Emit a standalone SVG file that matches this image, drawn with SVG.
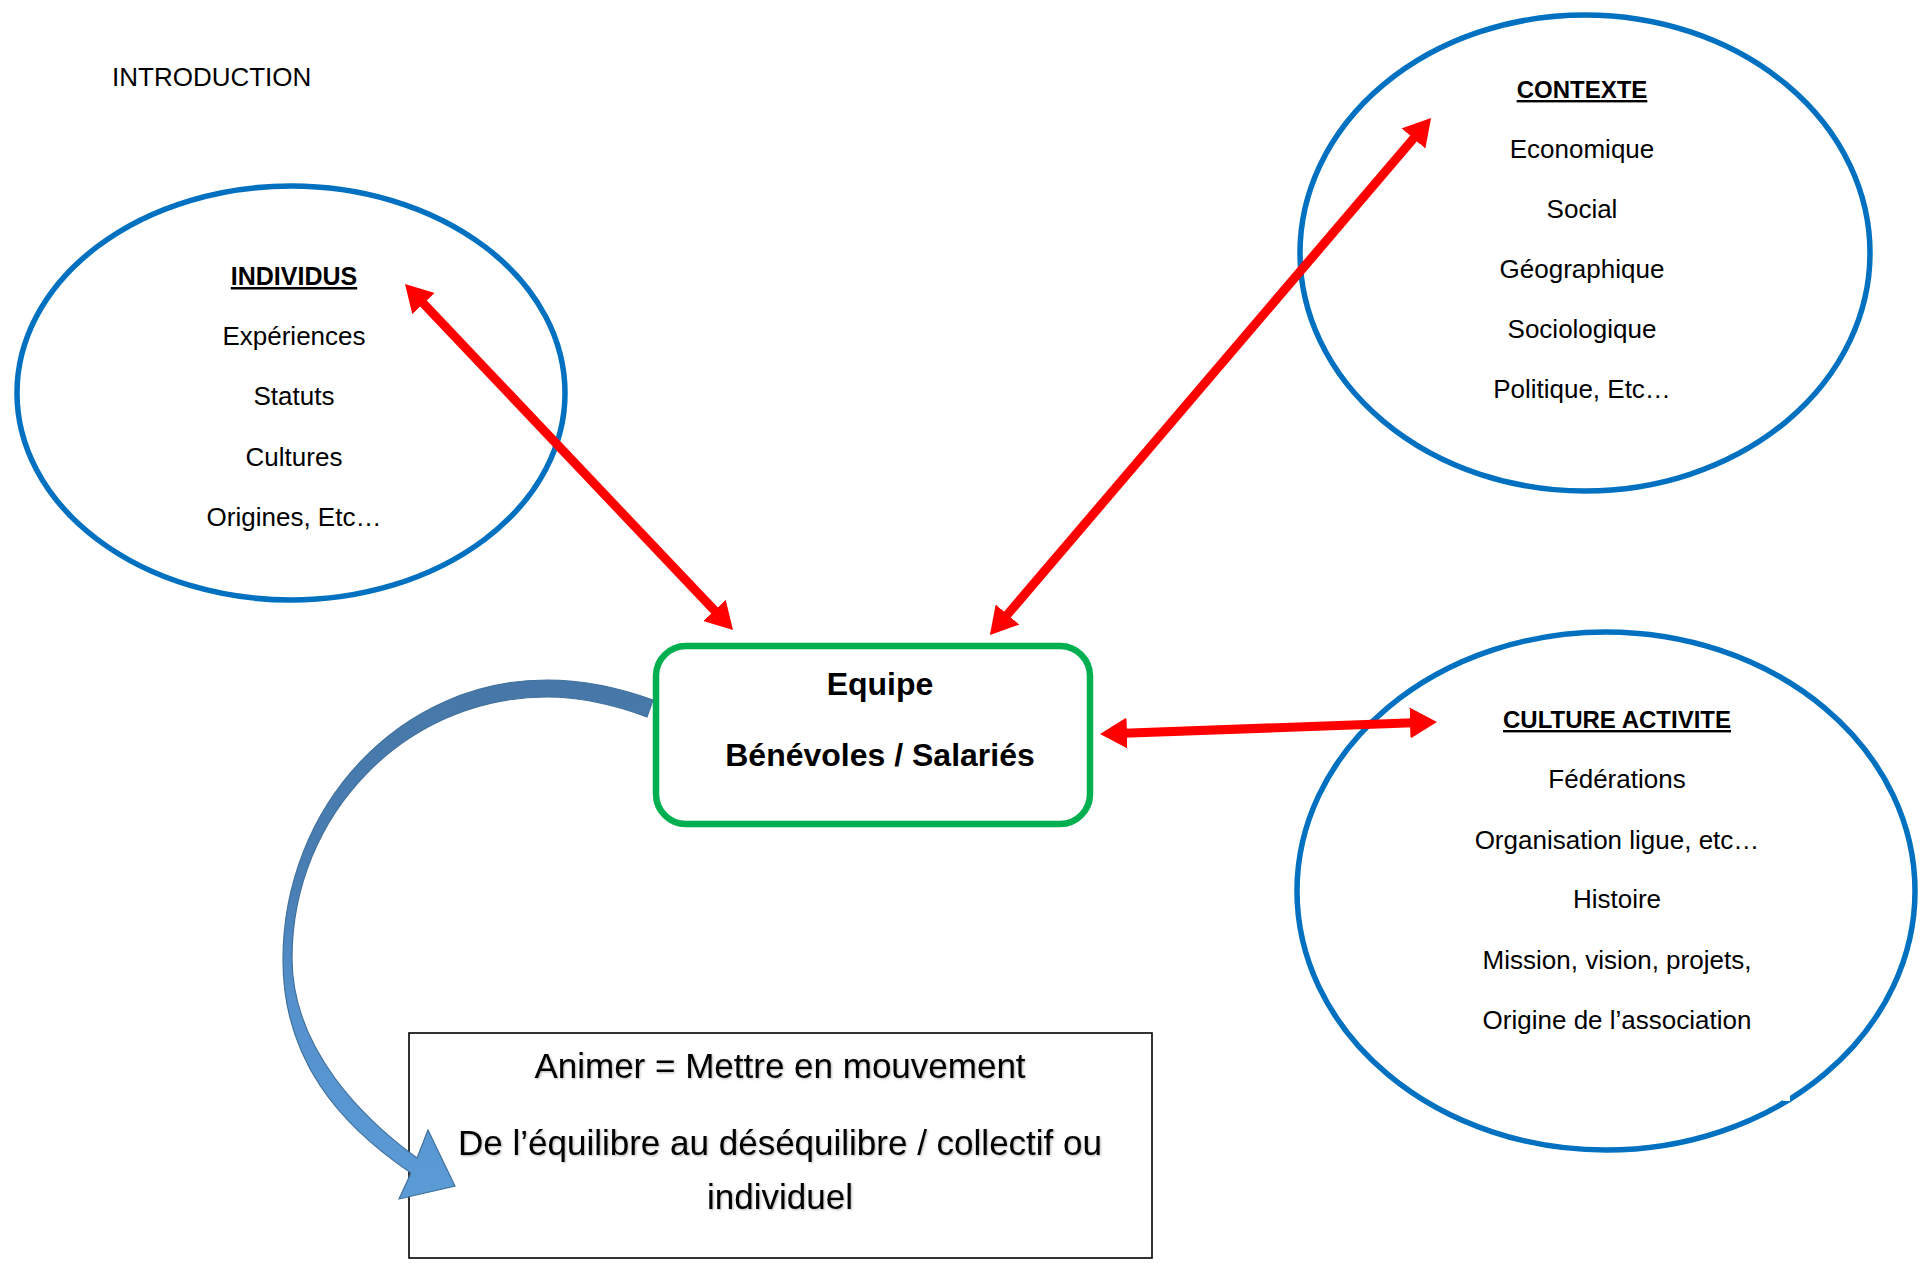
<svg xmlns="http://www.w3.org/2000/svg" width="1921" height="1263" viewBox="0 0 1921 1263">
<style>
  .t{font-family:"Liberation Sans",Arial,sans-serif;font-size:26px;fill:#000;text-anchor:middle}
  .h{font-family:"Liberation Sans",Arial,sans-serif;font-weight:bold;fill:#000;text-anchor:middle;text-decoration:underline}
  .ell{fill:none;stroke:#0070C0;stroke-width:5.5}
  .red{stroke:#FF0000;stroke-width:9;fill:none;marker-start:url(#ah);marker-end:url(#ah)}
  .big{font-family:"Liberation Sans",Arial,sans-serif;font-size:35px;fill:#000;text-anchor:middle}
  .eq{font-family:"Liberation Sans",Arial,sans-serif;font-weight:bold;font-size:32px;fill:#000;text-anchor:middle}
</style>
<defs>
  <marker id="ah" markerUnits="userSpaceOnUse" viewBox="0 0 27 31" markerWidth="27" markerHeight="31" refX="10" refY="15.5" orient="auto-start-reverse">
    <path d="M0,0 L27,15.5 L0,31 Z" fill="#FF0000"/>
  </marker>
  <linearGradient id="bg" x1="0" y1="680" x2="0" y2="1200" gradientUnits="userSpaceOnUse">
    <stop offset="0" stop-color="#4677a8"/>
    <stop offset="0.4" stop-color="#4a7fb5"/>
    <stop offset="0.62" stop-color="#5591cd"/>
    <stop offset="1" stop-color="#5b9bd5"/>
  </linearGradient>
  <filter id="sh" x="-5%" y="-20%" width="110%" height="140%">
    <feDropShadow dx="1" dy="1" stdDeviation="1" flood-color="#000" flood-opacity="0.3"/>
  </filter>
</defs>
<rect width="1921" height="1263" fill="#fff"/>

<text x="112" y="86" style="font-family:'Liberation Sans',Arial,sans-serif;font-size:26px">INTRODUCTION</text>

<g id="individus">
  <ellipse class="ell" cx="291" cy="393" rx="274" ry="207"/>
  <text class="h" x="294" y="285" font-size="25">INDIVIDUS</text>
  <text class="t" x="294" y="345">Expériences</text>
  <text class="t" x="294" y="405">Statuts</text>
  <text class="t" x="294" y="466">Cultures</text>
  <text class="t" x="294" y="526">Origines, Etc…</text>
</g>

<g id="contexte">
  <ellipse class="ell" cx="1585" cy="253" rx="285" ry="238"/>
  <text class="h" x="1582" y="98" font-size="24">CONTEXTE</text>
  <text class="t" x="1582" y="158">Economique</text>
  <text class="t" x="1582" y="218">Social</text>
  <text class="t" x="1582" y="278">Géographique</text>
  <text class="t" x="1582" y="338">Sociologique</text>
  <text class="t" x="1582" y="398">Politique, Etc…</text>
</g>

<g id="culture">
  <ellipse class="ell" cx="1606" cy="891" rx="309" ry="259"/>
  <rect x="1783" y="1095" width="7" height="6" fill="#fff"/>
  <text class="h" x="1617" y="728" font-size="24">CULTURE ACTIVITE</text>
  <text class="t" x="1617" y="788">Fédérations</text>
  <text class="t" x="1617" y="849">Organisation ligue, etc…</text>
  <text class="t" x="1617" y="908">Histoire</text>
  <text class="t" x="1617" y="969">Mission, vision, projets,</text>
  <text class="t" x="1617" y="1029">Origine de l’association</text>
</g>

<g id="equipe">
  <rect x="656" y="646" width="434" height="178" rx="30" ry="30" fill="#fff" stroke="#00B050" stroke-width="6.5"/>
  <text class="eq" x="880" y="695">Equipe</text>
  <text class="eq" x="880" y="766">Bénévoles / Salariés</text>
</g>

<g id="animer">
  <rect x="409" y="1033" width="743" height="225" fill="#fff" stroke="#000" stroke-width="1.6"/>
  <g filter="url(#sh)">
    <text class="big" x="780" y="1078">Animer = Mettre en mouvement</text>
    <text class="big" x="780" y="1155">De l’équilibre au déséquilibre / collectif ou</text>
    <text class="big" x="780" y="1209">individuel</text>
  </g>
</g>

<g id="connectors">
  <line class="red" x1="416.7" y1="296.3" x2="721.3" y2="617.7"/>
  <line class="red" x1="1420" y1="130.9" x2="1001" y2="622.1"/>
  <line class="red" x1="1117" y1="733.4" x2="1420" y2="722.6"/>
  <path d="M653,700 C620,688 585,680 547,680 C401,680 283,805 283,960 C283,1060 340,1125 411,1173 L399,1199 L455,1186 L428,1130 L417,1158 C365,1120 292,1050 292,958 C292,814 406,697 547,697 C583,697 615,705 647,717 Z" fill="url(#bg)" stroke="#41719c" stroke-width="1.2"/>
</g>
</svg>
